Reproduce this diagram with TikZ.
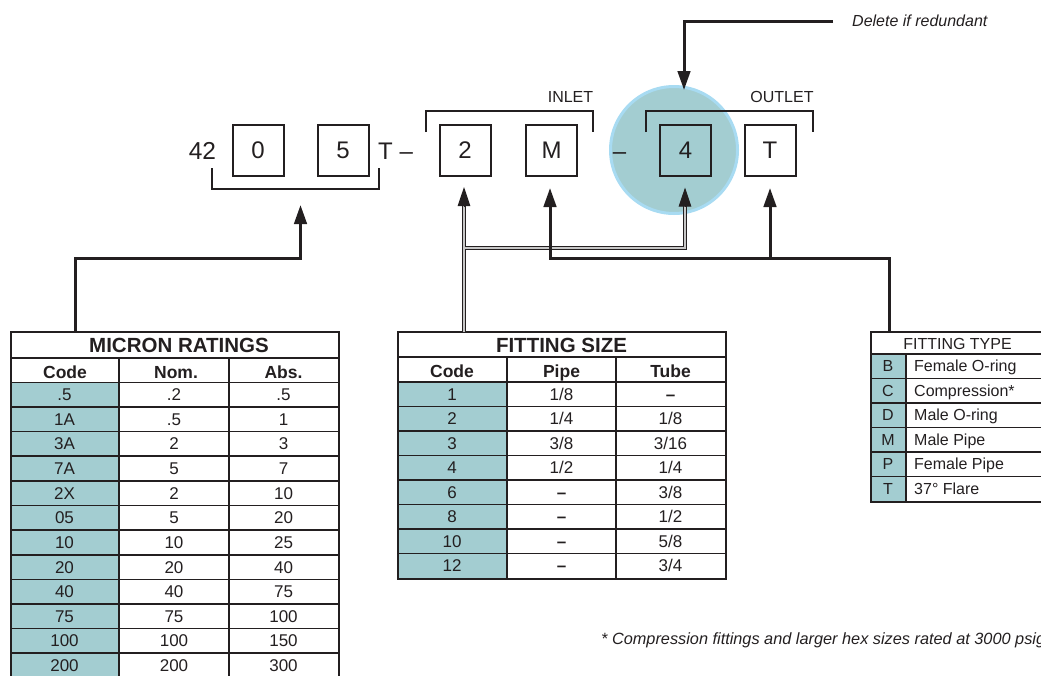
\documentclass[tikz,border=0pt]{standalone}
\usepackage{fontspec}
\setmainfont{Liberation Sans}
\usetikzlibrary{arrows.meta,calc}
\definecolor{teal1}{HTML}{A3CDD1}
\definecolor{ring}{HTML}{A8DBF2}
\definecolor{ink}{HTML}{231F20}
\newcommand{\fs}[1]{\fontsize{#1}{#1}\selectfont}
\newcommand{\micronrow}[4]{%
  \node[cell] (mc#1) at (64.5,{382.3+(#1-0.5)*24.63+6}) {#2};
  \node[cell] (mn#1) at (174,{382.3+(#1-0.5)*24.63+6}) {#3};
  \node[cell] (ma#1) at (283.5,{382.3+(#1-0.5)*24.63+6}) {#4};}
\newcommand{\sizerow}[4]{%
  \node[cell] (sc#1) at (452,{382+(#1-0.5)*24.5+6}) {#2};
  \node[cell] (sp#1) at (561.5,{382+(#1-0.5)*24.5+6}) {#3};
  \node[cell] (st#1) at (670.5,{382+(#1-0.5)*24.5+6}) {#4};}
\newcommand{\typerow}[3]{%
  \node[cell,font=\fs{16}] (tc#1) at (888,{354+(#1-0.5)*24.5+5.7}) {#2};
  \node[cell,font=\fs{16},anchor=base west] (td#1) at (914,{354+(#1-0.5)*24.5+5.7}) {#3};}
\begin{document}
\begin{tikzpicture}[x=1pt,y=-1pt,
  box/.style={draw=ink, line width=2pt, minimum size=51pt, inner sep=0pt, font=\fs{24}, text=ink},
  lbl/.style={inner sep=0pt, text=ink},
  brk/.style={draw=ink, line width=2pt},
  conn/.style={draw=ink, line width=3pt},
  tip/.style={-{Triangle[length=19pt,width=12.5pt]}},
  frame/.style={draw=ink, line width=2.4pt, inner sep=0pt, anchor=north west},
  grid/.style={draw=ink, line width=1.6pt},
  cell/.style={inner sep=0pt, anchor=base, text=ink, font=\fs{17}},
  hdr/.style={inner sep=0pt, anchor=base, text=ink, font=\fs{17.5}\bfseries},
  ttl/.style={inner sep=0pt, anchor=base, text=ink, font=\fs{20.5}\bfseries},
]
\useasboundingbox (0,0) rectangle (1041,675);

% highlight circle
\node[circle, fill=teal1, draw=ring, line width=3pt, minimum size=127pt, inner sep=0pt] (hl) at (674,150) {};

% code boxes
\node[box, fill=white] (b0) at (258,150) {0};
\node[box, fill=white] (b5) at (343,150) {5};
\node[box, fill=white] (b2) at (465,150) {2};
\node[box, fill=white] (bM) at (551.5,150) {M};
\node[box] (b4) at (685.5,150) {4};
\node[box, fill=white] (bT) at (770,150) {T};
\node[lbl, font=\fs{24.5}, anchor=base] (n42) at (202.5,159) {42};
\node[lbl, font=\fs{24}, anchor=base west] (tdash) at (378,159) {T –};
\node[lbl, font=\fs{24}, anchor=base] (dash2) at (619.5,159) {–};

% brackets and labels
\draw[brk] (212,168) -- (212,189) -- (379,189) -- (379,168);
\draw[brk] (426,132) -- (426,111) -- (593,111) -- (593,132);
\draw[brk] (646,132) -- (646,111) -- (813,111) -- (813,132);
\node[lbl, font=\fs{16}, anchor=base] (inlet) at (570.5,102) {INLET};
\node[lbl, font=\fs{16}, anchor=base] (outlet) at (782,102) {OUTLET};
\node[lbl, font=\fs{16}\itshape, anchor=base west] (del) at (852,26) {Delete if redundant};

% ---------- MICRON RATINGS table ----------
\fill[teal1] (10,382.3) rectangle (119,691);
\draw[grid] (10,358) -- (338,358);
\foreach \k in {0,...,12} \draw[grid] (10,{382.3+\k*24.63}) -- (338,{382.3+\k*24.63});
\draw[grid] (119,358) -- (119,691);
\draw[grid] (229,358) -- (229,691);
\node[frame, minimum width=328pt, minimum height=360pt] (mtab) at (10,331) {};
\node[ttl] (mtitle) at (179,352) {MICRON RATINGS};
\node[hdr] (mh1) at (65,378) {Code};
\node[hdr] (mh2) at (176,378) {Nom.};
\node[hdr] (mh3) at (283.5,378) {Abs.};
\micronrow{1}{.5}{.2}{.5}
\micronrow{2}{1A}{.5}{1}
\micronrow{3}{3A}{2}{3}
\micronrow{4}{7A}{5}{7}
\micronrow{5}{2X}{2}{10}
\micronrow{6}{05}{5}{20}
\micronrow{7}{10}{10}{25}
\micronrow{8}{20}{20}{40}
\micronrow{9}{40}{40}{75}
\micronrow{10}{75}{75}{100}
\micronrow{11}{100}{100}{150}
\micronrow{12}{200}{200}{300}

% ---------- FITTING SIZE table ----------
\fill[teal1] (397,382) rectangle (507,578);
\draw[grid] (397,357) -- (725,357);
\foreach \k in {0,...,7} \draw[grid] (397,{382+\k*24.5}) -- (725,{382+\k*24.5});
\draw[grid] (507,357) -- (507,578);
\draw[grid] (616,357) -- (616,578);
\node[frame, minimum width=328pt, minimum height=247pt] (stab) at (397,331) {};
\node[ttl] (stitle) at (561.5,352) {FITTING SIZE};
\node[hdr] (sh1) at (452,377.5) {Code};
\node[hdr] (sh2) at (561.5,377.5) {Pipe};
\node[hdr] (sh3) at (670.5,377.5) {Tube};
\sizerow{1}{1}{1/8}{\textbf{–}}
\sizerow{2}{2}{1/4}{1/8}
\sizerow{3}{3}{3/8}{3/16}
\sizerow{4}{4}{1/2}{1/4}
\sizerow{5}{6}{\textbf{–}}{3/8}
\sizerow{6}{8}{\textbf{–}}{1/2}
\sizerow{7}{10}{\textbf{–}}{5/8}
\sizerow{8}{12}{\textbf{–}}{3/4}

% ---------- FITTING TYPE table ----------
\fill[teal1] (870,354) rectangle (906,501);
\draw[grid] (870,354) -- (1060,354);
\foreach \k in {1,...,5} \draw[grid] (870,{354+\k*24.5}) -- (1060,{354+\k*24.5});
\draw[grid] (906,354) -- (906,501);
\node[frame, minimum width=190pt, minimum height=170pt] (ttab) at (870,331) {};
\node[lbl, font=\fs{16}, anchor=base] (ttitle) at (957.5,349.5) {FITTING TYPE};
\typerow{1}{B}{Female O-ring}
\typerow{2}{C}{Compression*}
\typerow{3}{D}{Male O-ring}
\typerow{4}{M}{Male Pipe}
\typerow{5}{P}{Female Pipe}
\typerow{6}{T}{37° Flare}

% footnote
\node[lbl, font=\fs{16.3}\itshape, anchor=base west] (note) at (601,644) {* Compression fittings and larger hex sizes rated at 3000 psig};

% ---------- connectors ----------
\coordinate (tip2) at (464,187);
\coordinate (tip4) at (685,187.5);
\coordinate (base2) at (464,204);
\coordinate (base4) at (685,204);
% double (outlined) connector from FITTING SIZE
\draw[ink, line width=4.6pt] ([xshift=67pt]stab.north west) -- (base2);
\draw[ink, line width=4.6pt] (464,248) -- (685,248) -- (base4);
\draw[black!22, line width=2pt] ([xshift=67pt,yshift=-1pt]stab.north west) -- (base2);
\draw[black!22, line width=2pt] (464,248) -- (685,248) -- (base4);
\draw[ink, line width=1pt, tip] (464,206) -- (tip2);
\draw[ink, line width=1pt, tip] (685,206) -- (tip4);

% MICRON connector
\coordinate (mtip) at (300.5,205);
\draw[conn, tip] ([xshift=65pt]mtab.north west) -- (75,258) -- (300.5,258) -- (mtip);

% FITTING TYPE connector
\coordinate (tipM) at (550,188);
\coordinate (tipT) at (770,188);
\draw[conn, tip] ([xshift=19pt]ttab.north west) -- (889,258) -- (550,258) -- (tipM);
\draw[conn, tip] (770,258) -- (tipT);

% Delete if redundant
\coordinate (dstart) at (833,21);
\coordinate (dtip) at (684,90);
\draw[conn, tip] (dstart) -- (684,21) -- (dtip);
\end{tikzpicture}
\end{document}
